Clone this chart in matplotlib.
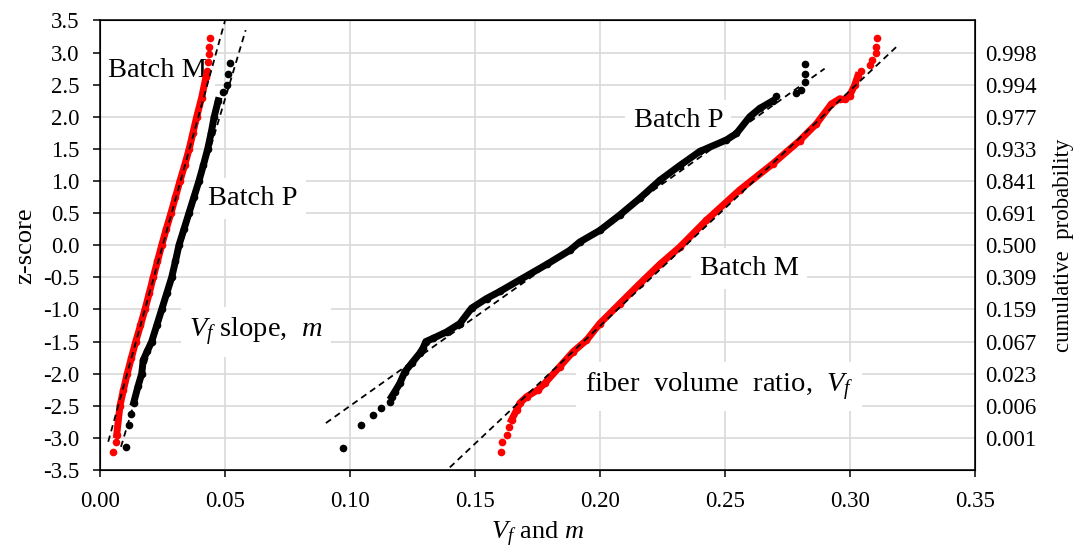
import matplotlib
matplotlib.use("Agg")
import matplotlib.pyplot as plt
import numpy as np

plt.rcParams['font.family'] = ['Liberation Serif', 'DejaVu Serif']
plt.rcParams['mathtext.fontset'] = 'custom'
plt.rcParams['mathtext.rm'] = 'Liberation Serif'
plt.rcParams['mathtext.it'] = 'Liberation Serif:italic'
plt.rcParams['axes.unicode_minus'] = False

# V_f slope, Batch M (red)
slope_m_band_x = [0.0065, 0.0078, 0.0092, 0.0107, 0.0124, 0.0141, 0.0160, 0.0178, 0.0195,
                  0.0211, 0.0228, 0.0245, 0.0263, 0.0282, 0.0300, 0.0318, 0.0337, 0.0355,
                  0.0370, 0.0385, 0.0405, 0.0422]
slope_m_band_z = [-2.95, -2.50, -2.25, -2.00, -1.75, -1.50, -1.25, -1.00, -0.75,
                  -0.50, -0.25, 0.00, 0.25, 0.50, 0.75, 1.00, 1.25, 1.50,
                  1.75, 2.00, 2.30, 2.62]
slope_m_tail_x = [0.0051, 0.0061, 0.0428, 0.0432, 0.0435, 0.0436, 0.0438]
slope_m_tail_z = [-3.22, -3.07, 2.72, 2.85, 2.98, 3.08, 3.23]

# V_f slope, Batch P (black)
slope_p_band_x = [0.0133, 0.0150, 0.0165, 0.0171, 0.0187, 0.0205, 0.0225, 0.0245, 0.0265,
                  0.0285, 0.0300, 0.0314, 0.0334, 0.0354, 0.0374, 0.0394, 0.0412, 0.0429,
                  0.0443, 0.0455, 0.0471]
slope_p_band_z = [-2.45, -2.20, -2.00, -1.79, -1.65, -1.50, -1.25, -1.00, -0.75,
                  -0.50, -0.25, 0.00, 0.25, 0.50, 0.75, 1.00, 1.25, 1.50,
                  1.75, 2.00, 2.25]
slope_p_tail_x = [0.0102, 0.0115, 0.0122, 0.0491, 0.0505, 0.0511, 0.0518]
slope_p_tail_z = [-3.14, -2.80, -2.63, 2.38, 2.49, 2.66, 2.84]

# fiber volume ratio, Batch P (black)
vf_p_band_x = [0.1165, 0.1178, 0.1198, 0.1218, 0.1245, 0.1278, 0.1291, 0.1302, 0.1331,
               0.1385, 0.1438, 0.1485, 0.1545, 0.1598, 0.1678, 0.1785, 0.1878, 0.1918,
               0.1998, 0.2078, 0.2158, 0.2238, 0.2318, 0.2398, 0.2505, 0.2545, 0.2598,
               0.2638, 0.2691]
vf_p_band_z = [-2.36, -2.28, -2.15, -1.97, -1.84, -1.68, -1.60, -1.50, -1.45,
               -1.35, -1.22, -0.98, -0.83, -0.72, -0.54, -0.30, -0.08, 0.05,
               0.23, 0.47, 0.73, 1.01, 1.24, 1.46, 1.64, 1.74, 2.00,
               2.13, 2.25]
vf_p_tail_x = [0.0971, 0.1041, 0.1089, 0.1122, 0.1158, 0.2705, 0.2785, 0.2805, 0.2818, 0.2818, 0.2818]
vf_p_tail_z = [-3.16, -2.80, -2.65, -2.53, -2.44, 2.32, 2.37, 2.41, 2.54, 2.66, 2.83]

# fiber volume ratio, Batch M (red)
vf_m_band_x = [0.1645, 0.1665, 0.1678, 0.1705, 0.1751, 0.1778, 0.1838, 0.1891, 0.1945,
               0.1998, 0.2078, 0.2158, 0.2238, 0.2318, 0.2425, 0.2558, 0.2691, 0.2798,
               0.2865, 0.2925, 0.2958, 0.2978, 0.2998, 0.3018, 0.3031]
vf_m_band_z = [-2.72, -2.57, -2.46, -2.36, -2.25, -2.15, -1.89, -1.66, -1.48,
               -1.22, -0.91, -0.60, -0.30, -0.03, 0.39, 0.86, 1.27, 1.63,
               1.89, 2.20, 2.28, 2.27, 2.33, 2.49, 2.64]
vf_m_tail_x = [0.1602, 0.1605, 0.1627, 0.1635, 0.3045, 0.3078, 0.3089, 0.3102, 0.3102, 0.3107]
vf_m_tail_z = [-3.22, -3.07, -2.95, -2.83, 2.72, 2.80, 2.89, 2.99, 3.08, 3.23]

# normal fit lines (start, end)
fit_x = [(0.0031, 0.0498), (0.0082, 0.0581), (0.0902, 0.2898), (0.1398, 0.3191)]
fit_z = [(-3.06, 3.49), (-3.14, 3.35), (-2.77, 2.75), (-3.46, 3.11)]

z_ticks = [-3.5, -3.0, -2.5, -2.0, -1.5, -1.0, -0.5, 0.0, 0.5, 1.0, 1.5, 2.0, 2.5, 3.0, 3.5]
x_ticks = [0.00, 0.05, 0.10, 0.15, 0.20, 0.25, 0.30, 0.35]
prob_z = [-3.0, -2.5, -2.0, -1.5, -1.0, -0.5, 0.0, 0.5, 1.0, 1.5, 2.0, 2.5, 3.0]
prob_labels = ['0.001', '0.006', '0.023', '0.067', '0.159', '0.309', '0.500',
               '0.691', '0.841', '0.933', '0.977', '0.994', '0.998']

fig = plt.figure(figsize=(10.84, 5.52), dpi=100)
ax = fig.add_axes([0.0927, 0.1486, 0.8068, 0.8143])
ax.set_xlim(0, 0.35)
ax.set_ylim(-3.5, 3.5)
ax.set_axisbelow(True)
ax.grid(True, color='#d9d9d9', lw=1.2)

lw_band = 5.0
ms = 4.5
for bx, bz, tx, tz, c in [
    (slope_m_band_x, slope_m_band_z, slope_m_tail_x, slope_m_tail_z, '#ff0000'),
    (slope_p_band_x, slope_p_band_z, slope_p_tail_x, slope_p_tail_z, 'black'),
    (vf_p_band_x, vf_p_band_z, vf_p_tail_x, vf_p_tail_z, 'black'),
    (vf_m_band_x, vf_m_band_z, vf_m_tail_x, vf_m_tail_z, '#ff0000'),
]:
    ax.plot(bx, bz, '-o', color=c, lw=lw_band, ms=ms, zorder=3)
    ax.plot(tx, tz, 'o', color=c, ms=ms, zorder=3)

for fx, fz in zip(fit_x, fit_z):
    ax.plot(fx, fz, color='black', lw=1.3, ls=(0, (3.5, 2.5)), zorder=4)

box = dict(facecolor='white', edgecolor='none', pad=6)
tfs = 20.5
ax.text(0.003, 2.72, 'Batch M', fontsize=tfs, va='center', ha='left', bbox=box, zorder=2)
ax.text(0.043, 0.73, 'Batch P', fontsize=tfs, va='center', ha='left', bbox=box, zorder=2)
ax.text(0.0354, -1.35, r'$V_f$ slope,  $m$', fontsize=tfs, va='center', ha='left', bbox=box, zorder=2)
ax.text(0.2134, 1.94, 'Batch P', fontsize=tfs, va='center', ha='left', bbox=box, zorder=2)
ax.text(0.2398, -0.36, 'Batch M', fontsize=tfs, va='center', ha='left', bbox=box, zorder=2)
ax.text(0.1938, -2.2, r'fiber  volume  ratio,  $V_f$', fontsize=tfs, va='center', ha='left',
        bbox=box, zorder=2)

ax.set_xticks(x_ticks)
ax.set_xticklabels(['%.2f' % v for v in x_ticks])
ax.set_yticks(z_ticks)
ax.set_yticklabels(['%.1f' % v for v in z_ticks])
ax.tick_params(axis='both', labelsize=16.5, direction='out', length=5, width=1.1, pad=10)
for s in ax.spines.values():
    s.set_linewidth(1.1)
    s.set_color('black')

ax.set_xlabel(r'$V_f$ and $m$', fontsize=19, labelpad=6)
ax.set_ylabel('z-score', fontsize=19, labelpad=5)

ax2 = ax.twinx()
ax2.set_ylim(-3.5, 3.5)
ax2.set_yticks(prob_z)
ax2.set_yticklabels(prob_labels)
ax2.tick_params(axis='y', labelsize=16.5, length=0, pad=7)
ax2.set_ylabel('cumulative  probability', fontsize=16.5, labelpad=12)

fig.savefig('out.png', dpi=100)
